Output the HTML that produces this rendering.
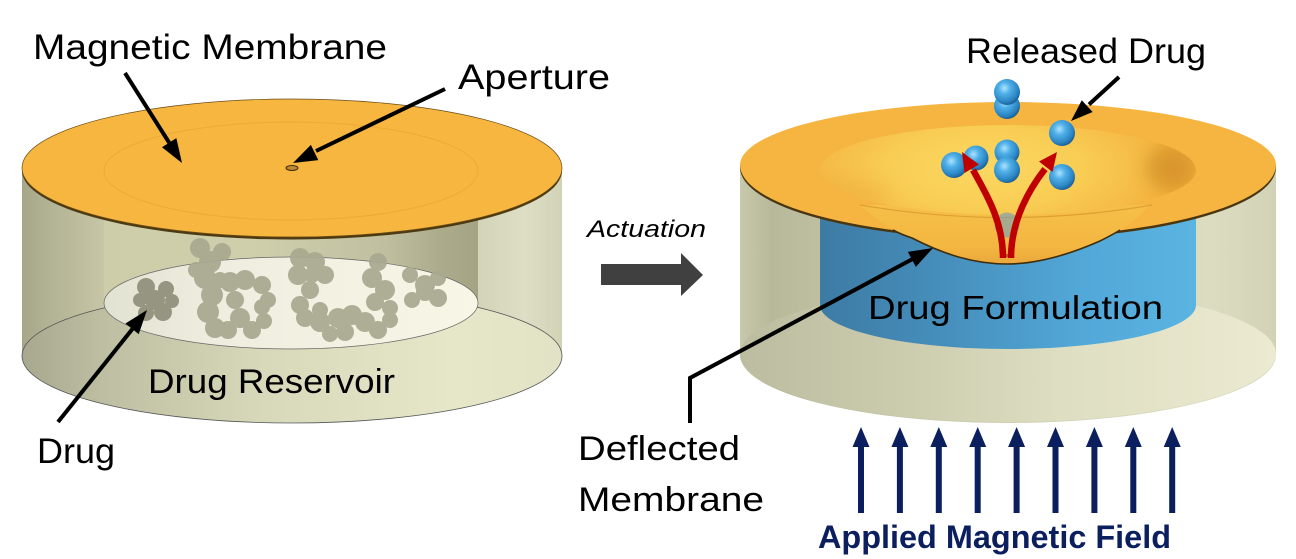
<!DOCTYPE html>
<html><head><meta charset="utf-8"><style>
html,body{margin:0;padding:0;background:#fff;}
svg{display:block;}
text{font-family:"Liberation Sans",sans-serif;fill:#000;}
</style></head><body>
<svg width="1296" height="559" viewBox="0 0 1296 559" xmlns="http://www.w3.org/2000/svg">
<defs>
<linearGradient id="lwall" x1="22" x2="562" y1="0" y2="0" gradientUnits="userSpaceOnUse">
<stop offset="0" stop-color="#a6a688"/><stop offset="0.05" stop-color="#b2b294"/><stop offset="0.15" stop-color="#c6c6a6"/><stop offset="0.85" stop-color="#d4d4b8"/><stop offset="0.93" stop-color="#dedec6"/><stop offset="1" stop-color="#d2d2b6"/>
</linearGradient>
<linearGradient id="lfloor" x1="22" x2="562" y1="0" y2="0" gradientUnits="userSpaceOnUse">
<stop offset="0" stop-color="#a8a890"/><stop offset="0.15" stop-color="#bebea2"/><stop offset="0.45" stop-color="#d8d8ba"/><stop offset="0.8" stop-color="#e6e6c8"/><stop offset="1" stop-color="#e2e2c6"/>
</linearGradient>
<linearGradient id="linner" x1="104" x2="478" y1="0" y2="0" gradientUnits="userSpaceOnUse">
<stop offset="0" stop-color="#cdcdaa"/><stop offset="0.4" stop-color="#cfcfac"/><stop offset="0.75" stop-color="#c0c0a0"/><stop offset="0.9" stop-color="#acac8c"/><stop offset="1" stop-color="#a4a484"/>
</linearGradient>
<linearGradient id="ldisk" x1="104" x2="478" y1="0" y2="0" gradientUnits="userSpaceOnUse">
<stop offset="0" stop-color="#e2e2d2"/><stop offset="0.3" stop-color="#eeeddf"/><stop offset="1" stop-color="#f8f6e6"/>
</linearGradient>
<linearGradient id="rwall" x1="740" x2="1276" y1="0" y2="0" gradientUnits="userSpaceOnUse">
<stop offset="0" stop-color="#c8c8aa"/><stop offset="0.06" stop-color="#b8b89a"/><stop offset="0.2" stop-color="#c2c2a4"/><stop offset="0.5" stop-color="#cfcfb2"/><stop offset="0.88" stop-color="#dcdcc0"/><stop offset="1" stop-color="#d2d2b6"/>
</linearGradient>
<linearGradient id="rfloor" x1="740" x2="1276" y1="0" y2="0" gradientUnits="userSpaceOnUse">
<stop offset="0" stop-color="#bcbca0"/><stop offset="0.3" stop-color="#cbcbae"/><stop offset="0.6" stop-color="#dedec2"/><stop offset="1" stop-color="#ecead0"/>
</linearGradient>
<linearGradient id="blue" x1="820" x2="1196" y1="0" y2="0" gradientUnits="userSpaceOnUse">
<stop offset="0" stop-color="#3c7ba4"/><stop offset="0.35" stop-color="#4790bd"/><stop offset="0.7" stop-color="#52a8d8"/><stop offset="1" stop-color="#5ab4e2"/>
</linearGradient>
<radialGradient id="funnel" cx="985" cy="168" r="190" gradientUnits="userSpaceOnUse" gradientTransform="translate(985,168) scale(1,0.42) translate(-985,-168)">
<stop offset="0" stop-color="#fbd862"/><stop offset="0.5" stop-color="#f9cd54"/><stop offset="0.85" stop-color="#f5bb46"/><stop offset="1" stop-color="#f5b540"/>
</radialGradient>
<linearGradient id="bulge" x1="0" x2="0" y1="205" y2="264" gradientUnits="userSpaceOnUse">
<stop offset="0" stop-color="#f6bf48"/><stop offset="0.7" stop-color="#f4b741"/><stop offset="1" stop-color="#eaa83a"/>
</linearGradient>
<radialGradient id="sph" cx="0.4" cy="0.35" r="0.65">
<stop offset="0" stop-color="#aee3ff"/><stop offset="0.35" stop-color="#50b0e8"/><stop offset="0.8" stop-color="#2b86c4"/><stop offset="1" stop-color="#1d639a"/>
</radialGradient>
<filter id="blur8" x="-50%" y="-50%" width="200%" height="200%"><feGaussianBlur stdDeviation="9"/></filter>
<clipPath id="fclip"><ellipse cx="1008" cy="170" rx="188" ry="45"/></clipPath>
</defs>

<!-- LEFT CYLINDER -->
<path d="M22,168 L22,356 A270,67 0 0 0 562,356 L562,168 Z" fill="url(#lwall)"/>
<ellipse cx="292" cy="356" rx="270" ry="67" fill="url(#lfloor)" stroke="#555" stroke-width="0.8"/>
<rect x="104" y="168" width="374" height="135" fill="url(#linner)"/>
<ellipse cx="291" cy="303" rx="187" ry="46" fill="url(#ldisk)" stroke="#666" stroke-width="0.7"/>

<!-- drug blobs -->
<g fill="#a9a991" opacity="0.93">
<g fill="#8f8f7c">
<circle cx="146" cy="287" r="9"/><circle cx="155" cy="300" r="10"/><circle cx="163" cy="312" r="9"/><circle cx="146" cy="313" r="8"/><circle cx="166" cy="289" r="8"/><circle cx="140" cy="300" r="7"/><circle cx="172" cy="301" r="7"/>
</g>
<circle cx="200" cy="248" r="10"/><circle cx="210" cy="262" r="11"/><circle cx="205" cy="278" r="11"/><circle cx="212" cy="295" r="11"/><circle cx="208" cy="312" r="11"/><circle cx="215" cy="328" r="10"/><circle cx="222" cy="252" r="9"/><circle cx="196" cy="270" r="8"/><circle cx="220" cy="280" r="8"/>
<circle cx="230" cy="282" r="10"/><circle cx="245" cy="280" r="10"/><circle cx="262" cy="285" r="9"/><circle cx="235" cy="300" r="9"/><circle cx="268" cy="300" r="8"/><circle cx="240" cy="318" r="10"/><circle cx="228" cy="330" r="9"/><circle cx="252" cy="330" r="9"/>
<circle cx="262" cy="307" r="8"/><circle cx="264" cy="321" r="8"/>
<circle cx="300" cy="258" r="10"/><circle cx="315" cy="262" r="10"/><circle cx="325" cy="275" r="9"/><circle cx="298" cy="275" r="10"/><circle cx="310" cy="290" r="9"/><circle cx="300" cy="305" r="9"/><circle cx="320" cy="310" r="8"/><circle cx="312" cy="275" r="8"/>
<circle cx="305" cy="318" r="9"/><circle cx="320" cy="322" r="10"/><circle cx="338" cy="318" r="10"/><circle cx="352" cy="315" r="10"/><circle cx="365" cy="322" r="10"/><circle cx="378" cy="330" r="9"/><circle cx="345" cy="332" r="9"/><circle cx="330" cy="334" r="8"/><circle cx="390" cy="320" r="8"/>
<circle cx="378" cy="262" r="9"/><circle cx="372" cy="278" r="10"/><circle cx="385" cy="290" r="10"/><circle cx="375" cy="302" r="9"/><circle cx="390" cy="308" r="8"/>
<circle cx="410" cy="275" r="8"/><circle cx="425" cy="285" r="10"/><circle cx="438" cy="278" r="8"/><circle cx="412" cy="300" r="8"/><circle cx="438" cy="298" r="9"/><circle cx="425" cy="292" r="9"/>
</g>

<!-- left membrane -->
<ellipse cx="292" cy="170.5" rx="270" ry="69" fill="#4e3a12"/>
<ellipse cx="292" cy="168" rx="270" ry="69" fill="#f6b640" stroke="#6a4c14" stroke-width="0.7"/>
<ellipse cx="291" cy="171" rx="187" ry="49" fill="none" stroke="#e6a232" stroke-width="1" opacity="0.6"/>
<ellipse cx="292" cy="168" rx="6" ry="2.5" fill="#c08a30" stroke="#3a2a10" stroke-width="1"/>

<!-- RIGHT CYLINDER -->
<path d="M740,165 L740,355 A268,68 0 0 0 1276,355 L1276,165 Z" fill="url(#rwall)"/>
<ellipse cx="1008" cy="354" rx="268" ry="68" fill="url(#rfloor)"/>
<path d="M820,190 L820,305 A188,44 0 0 0 1196,305 L1196,190 Z" fill="url(#blue)"/>
<!-- flat membrane -->
<path d="M740,167.5 A268,63 0 0 1 1276,167.5 A268,72 0 0 1 740,167.5 Z" fill="#4a3610"/>
<path d="M740,165 A268,63 0 0 1 1276,165 A268,72 0 0 1 740,165 Z" fill="#f5b540"/>
<!-- bulge -->
<path d="M860,205 C880,222 895,232 912,238 C945,255 975,264 1007,264 C1040,264 1075,252 1100,241 C1120,232 1135,222 1150,205 Z" fill="url(#bulge)"/>
<path d="M893,230 C900,234 906,236 912,238 C945,255 975,264 1007,264 C1040,264 1075,252 1100,241 C1108,237 1114,234 1120,230" fill="none" stroke="#3e2e0e" stroke-width="1.6"/>
<!-- funnel interior -->
<ellipse cx="1008" cy="170" rx="188" ry="45" fill="url(#funnel)"/>
<g clip-path="url(#fclip)">
<ellipse cx="1172" cy="168" rx="26" ry="24" fill="#c47e1c" opacity="0.55" filter="url(#blur8)"/>
<ellipse cx="850" cy="195" rx="40" ry="14" fill="#e8a636" opacity="0.35" filter="url(#blur8)"/>
</g>
<path d="M860,205 Q1008,230 1152,205" fill="none" stroke="#d6962a" stroke-width="1.2" opacity="0.75"/>
<rect x="1003" y="254" width="8" height="3" fill="#a87828"/>

<!-- spheres -->
<circle cx="1007" cy="225" r="12.5" fill="#7a9fb6" opacity="0.65"/>
<circle cx="1007" cy="106" r="13" fill="url(#sph)"/>
<circle cx="1007" cy="92" r="13" fill="url(#sph)"/>
<circle cx="1062" cy="133" r="13" fill="url(#sph)"/>
<circle cx="976" cy="158" r="12.5" fill="url(#sph)"/>
<circle cx="954" cy="165" r="13" fill="url(#sph)"/>
<circle cx="1007" cy="152" r="12.5" fill="url(#sph)"/>
<circle cx="1007" cy="170" r="13" fill="url(#sph)"/>
<circle cx="1062" cy="177" r="13" fill="url(#sph)"/>

<!-- red arrows -->
<path d="M1003,258 C1003,220 985,192 973,170" fill="none" stroke="#c00000" stroke-width="6.5"/>
<polygon points="962,152 979,164.5 964.5,173" fill="#c00000"/>
<path d="M1011,258 C1011,220 1030,188 1045,169" fill="none" stroke="#c00000" stroke-width="6.5"/>
<polygon points="1057,152 1052.5,172 1039,161.5" fill="#c00000"/>

<!-- Actuation arrow -->
<polygon points="601,264 681,264 681,253 703,275 681,296 681,285 601,285" fill="#404040"/>

<!-- black arrows -->
<g stroke="#000" stroke-width="4" fill="none">
<line x1="125" y1="73" x2="170" y2="144"/>
<line x1="445" y1="89" x2="316" y2="151"/>
<line x1="58" y1="422" x2="134" y2="327"/>
<line x1="1119" y1="77" x2="1089" y2="104.5"/>
<polyline points="690,423 690,378 913.5,258.5"/>
</g>
<g fill="#000">
<polygon points="182,163 161.98,147.27 176.34,138.17"/>
<polygon points="293,163 310.85,144.86 318.29,160.14"/>
<polygon points="147,310 138.73,334.08 125.41,323.5"/>
<polygon points="1071,121 1081.8,100.2 1092.6,112.0"/>
<polygon points="933,248 915.85,266.82 907.83,251.82"/>
</g>

<!-- field arrows -->
<g fill="#0b1f5e">
<rect x="858" y="440" width="6" height="73"/><polygon points="852.5,447 861,427 869.5,447"/>
<rect x="896.9" y="440" width="6" height="73"/><polygon points="891.4,447 899.9,427 908.4,447"/>
<rect x="935.8" y="440" width="6" height="73"/><polygon points="930.3,447 938.8,427 947.3,447"/>
<rect x="974.7" y="440" width="6" height="73"/><polygon points="969.2,447 977.7,427 986.2,447"/>
<rect x="1013.6" y="440" width="6" height="73"/><polygon points="1008.1,447 1016.6,427 1025.1,447"/>
<rect x="1052.5" y="440" width="6" height="73"/><polygon points="1047,447 1055.5,427 1064,447"/>
<rect x="1091.4" y="440" width="6" height="73"/><polygon points="1085.9,447 1094.4,427 1102.9,447"/>
<rect x="1130.3" y="440" width="6" height="73"/><polygon points="1124.8,447 1133.3,427 1141.8,447"/>
<rect x="1169.2" y="440" width="6" height="73"/><polygon points="1163.7,447 1172.2,427 1180.7,447"/>
</g>

<!-- labels -->
<text x="33" y="59" font-size="35" textLength="354" lengthAdjust="spacingAndGlyphs">Magnetic Membrane</text>
<text x="458" y="89" font-size="35" textLength="152" lengthAdjust="spacingAndGlyphs">Aperture</text>
<text x="148" y="393" font-size="34" textLength="247" lengthAdjust="spacingAndGlyphs">Drug Reservoir</text>
<text x="37" y="463" font-size="35" textLength="78" lengthAdjust="spacingAndGlyphs">Drug</text>
<text x="587" y="237" font-size="24" font-style="italic" textLength="119" lengthAdjust="spacingAndGlyphs">Actuation</text>
<text x="966" y="63" font-size="35" textLength="240" lengthAdjust="spacingAndGlyphs">Released Drug</text>
<text x="868" y="319" font-size="33" textLength="295" lengthAdjust="spacingAndGlyphs">Drug Formulation</text>
<text x="578" y="460" font-size="34" textLength="162" lengthAdjust="spacingAndGlyphs">Deflected</text>
<text x="578" y="511" font-size="34" textLength="186" lengthAdjust="spacingAndGlyphs">Membrane</text>
<text x="818" y="548" font-size="32" font-weight="bold" style="fill:#0b1f5e" textLength="353" lengthAdjust="spacingAndGlyphs">Applied Magnetic Field</text>
</svg>
</body></html>
